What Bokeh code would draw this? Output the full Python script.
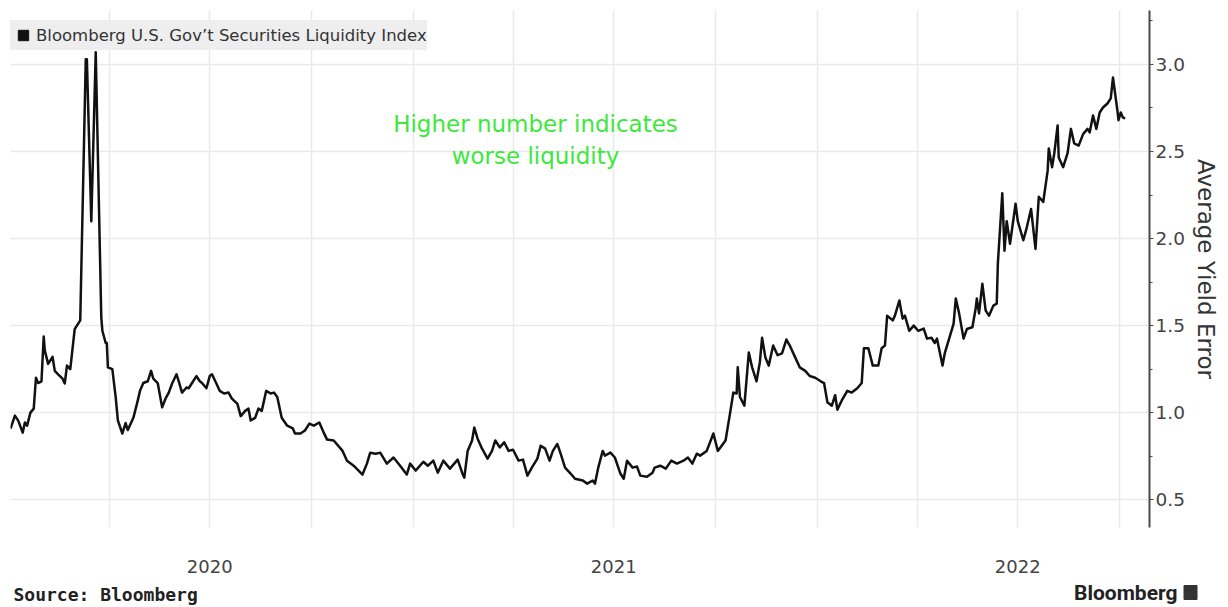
import pandas as pd
from bokeh.plotting import figure
from bokeh.layouts import column
from bokeh.models import (Range1d, FixedTicker, SingleIntervalTicker, NumeralTickFormatter,
                          DatetimeTickFormatter, Legend, LegendItem, Label, ColumnDataSource)
from bokeh.embed import file_html
from bokeh.resources import INLINE

# ---- data ----
series_name = "Bloomberg U.S. Gov\u2019t Securities Liquidity Index"
start_date = "2020-01-01"
days_since_start = [
    2, 6, 9, 13, 15, 17, 20, 23, 25, 27, 30, 32, 33, 36, 40, 42, 45, 49, 51, 53, 56, 60, 62, 65,
    70, 71, 75, 79, 84, 85, 88, 89, 90, 94, 97, 99, 103, 106, 108, 113, 117, 119, 122, 126, 129,
    131, 135, 139, 142, 145, 148, 152, 154, 157, 161, 163, 166, 170, 173, 175, 179, 182, 184, 188,
    191, 195, 199, 202, 207, 210, 214, 217, 219, 223, 226, 229, 233, 237, 240, 243, 247, 252, 257,
    259, 264, 268, 272, 276, 281, 285, 288, 294, 302, 306, 312, 320, 324, 327, 332, 336, 342, 348,
    354, 360, 363, 368, 375, 379, 384, 388, 393, 399, 406, 410, 412, 415, 419, 421, 424, 428, 433,
    437, 440, 444, 448, 452, 456, 461, 465, 469, 473, 478, 481, 485, 489, 492, 496, 499, 503, 508,
    512, 519, 523, 528, 530, 533, 537, 539, 544, 548, 553, 556, 559, 564, 568, 571, 577, 582, 584,
    589, 594, 599, 604, 610, 614, 618, 622, 625, 631, 637, 641, 648, 652, 655, 658, 659, 661, 665,
    669, 672, 676, 679, 681, 684, 687, 691, 695, 699, 703, 706, 711, 715, 720, 724, 729, 734, 737,
    740, 744, 747, 749, 753, 758, 762, 767, 771, 773, 777, 781, 786, 789, 792, 794, 799, 801, 805,
    808, 810, 814, 818, 822, 827, 830, 834, 837, 839, 844, 846, 850, 854, 856, 859, 863, 866, 871,
    874, 875, 877, 880, 883, 886, 890, 893, 894, 898, 900, 902, 905, 910, 912, 917, 920, 924, 928,
    931, 935, 939, 940, 943, 945, 948, 949, 953, 957, 960, 963, 967, 971, 975, 977, 980, 983, 986,
    989, 993, 996, 998, 1002, 1003, 1005, 1007, 1009,
]
index_values = [
    0.908, 0.983, 0.954, 0.885, 0.943, 0.925, 1.00, 1.023, 1.20, 1.17, 1.18, 1.437, 1.356, 1.28,
    1.32, 1.24, 1.22, 1.195, 1.167, 1.27, 1.25, 1.48, 1.50, 1.53,
    3.03, 3.03, 2.10, 3.07, 1.55, 1.47, 1.40, 1.40, 1.26, 1.25, 1.09, 0.955, 0.88, 0.94, 0.90,
    0.97, 1.07, 1.125, 1.17, 1.18, 1.24,
    1.195, 1.17, 1.03, 1.08, 1.115, 1.167, 1.22, 1.18, 1.115, 1.144, 1.14, 1.17, 1.21, 1.18, 1.17,
    1.14, 1.21, 1.22, 1.167,
    1.125, 1.11, 1.115, 1.08, 1.05, 0.98, 1.01, 1.023, 0.955, 0.97, 1.023, 1.01, 1.125, 1.11,
    1.115, 1.09, 0.97, 0.925, 0.91,
    0.88, 0.88, 0.897, 0.937, 0.925, 0.943, 0.885, 0.845, 0.84, 0.78, 0.724, 0.695, 0.644, 0.707,
    0.77, 0.764, 0.77, 0.707, 0.742,
    0.695, 0.644, 0.707, 0.667, 0.718, 0.695, 0.724, 0.655, 0.724, 0.678, 0.73, 0.655, 0.626, 0.78,
    0.84, 0.914, 0.85, 0.793, 0.736,
    0.78, 0.84, 0.80, 0.83, 0.78, 0.787, 0.724, 0.73, 0.638, 0.684, 0.736, 0.81, 0.793, 0.724, 0.78,
    0.82, 0.764, 0.684, 0.65,
    0.62, 0.61, 0.592, 0.61, 0.592, 0.684, 0.78, 0.753, 0.77, 0.742, 0.65, 0.62, 0.724, 0.684,
    0.69, 0.638, 0.632, 0.655, 0.684,
    0.695, 0.678, 0.724, 0.707, 0.724, 0.742, 0.707, 0.764, 0.753, 0.78, 0.88, 0.78, 0.84, 0.994,
    1.115, 1.11, 1.26, 1.09, 1.04,
    1.345, 1.26, 1.18, 1.29, 1.43, 1.316, 1.27, 1.385, 1.33, 1.34, 1.42, 1.385, 1.316, 1.26, 1.24,
    1.21, 1.20, 1.18, 1.17,
    1.06, 1.04, 1.10, 1.017, 1.07, 1.125, 1.115, 1.14, 1.17, 1.37, 1.37, 1.27, 1.27, 1.37, 1.385,
    1.557, 1.53, 1.557, 1.644,
    1.54, 1.557, 1.47, 1.50, 1.47, 1.483, 1.425, 1.43, 1.40, 1.425, 1.27, 1.34, 1.425, 1.51, 1.655,
    1.57, 1.425, 1.48, 1.49,
    1.60, 1.655, 1.57, 1.74, 1.586, 1.557, 1.615, 1.626, 1.856, 2.26, 1.93, 2.10, 1.97, 2.20, 2.10,
    1.99, 2.06, 2.17, 1.94,
    2.24, 2.21, 2.39, 2.517, 2.41, 2.49, 2.65, 2.466, 2.41, 2.49, 2.63, 2.546, 2.534, 2.60, 2.63,
    2.61, 2.707, 2.63, 2.724,
    2.753, 2.776, 2.805, 2.925, 2.735, 2.68, 2.724, 2.695, 2.69,
]
quarter_starts = ["2020-04-01", "2020-07-01", "2020-10-01", "2021-01-01", "2021-04-01",
                  "2021-07-01", "2021-10-01", "2022-01-01", "2022-04-01", "2022-07-01",
                  "2022-10-01"]
year_label_dates = ["2020-07-01", "2021-07-01", "2022-07-01"]
x_start, x_end = "2020-01-03", "2022-10-28"
y_start, y_end = 0.34, 3.31
y_axis_title = "Average Yield Error"
note_lines = ["Higher number indicates", "worse liquidity"]
source_text = "Source: Bloomberg"
brand_text = "Bloomberg"

assert len(days_since_start) == len(index_values)

dates = pd.Timestamp(start_date) + pd.to_timedelta(days_since_start, unit="D")
src = ColumnDataSource(dict(date=dates, value=index_values))

def ms(s):
    return pd.Timestamp(s).value / 1e6

FONT = "DejaVu Sans"

p = figure(width=1228, height=580, x_axis_type="datetime", y_axis_location="right",
           output_backend="svg", toolbar_location=None,
           x_range=Range1d(pd.Timestamp(x_start), pd.Timestamp(x_end)),
           y_range=Range1d(y_start, y_end),
           min_border_left=10, min_border_top=10, min_border_right=79, min_border_bottom=53)
p.frame_align = False
p.outline_line_color = None
p.background_fill_color = "white"
p.border_fill_color = "white"

# grids
p.xgrid.ticker = FixedTicker(ticks=[ms(d) for d in quarter_starts])
p.xgrid.grid_line_color = "#e9e9e9"
p.xgrid.grid_line_width = 1.5
p.ygrid.grid_line_color = "#e9e9e9"
p.ygrid.grid_line_width = 1.5

# x axis
xa = p.xaxis[0]
xa.ticker = FixedTicker(ticks=[ms(d) for d in year_label_dates])
xa.formatter = DatetimeTickFormatter(years="%Y", months="%Y", days="%Y", hours="%Y",
                                     minutes="%Y", seconds="%Y", milliseconds="%Y",
                                     microseconds="%Y", minsec="%Y", hourmin="%Y")
xa.axis_line_color = None
xa.major_tick_line_color = None
xa.minor_tick_line_color = None
xa.major_label_standoff = 26
xa.major_label_text_font = FONT
xa.major_label_text_font_size = "18px"
xa.major_label_text_color = "#444444"

# right y axis
ya = p.yaxis[0]
ya.ticker = SingleIntervalTicker(interval=0.5, num_minor_ticks=2)
ya.formatter = NumeralTickFormatter(format="0.0")
ya.axis_line_color = "#4a4a4a"
ya.axis_line_width = 2
ya.major_tick_line_color = "#4a4a4a"
ya.major_tick_in = 0
ya.major_tick_out = 4
ya.minor_tick_line_color = "#4a4a4a"
ya.minor_tick_in = 0
ya.minor_tick_out = 3
ya.major_label_standoff = 2
ya.major_label_text_font = FONT
ya.major_label_text_font_size = "18.5px"
ya.major_label_text_color = "#444444"
ya.axis_label = y_axis_title
ya.axis_label_text_font = FONT
ya.axis_label_text_font_style = "normal"
ya.axis_label_text_font_size = "23px"
ya.axis_label_text_color = "#333333"
ya.axis_label_standoff = 5

# series line
line = p.line("date", "value", source=src, line_color="#111111", line_width=2.5,
              line_join="round")

# legend (square swatch, drawn only inside the legend)
swatch = p.scatter("date", "value", source=src, marker="square", color="#111111",
                   visible=False)
legend = Legend(items=[LegendItem(label=series_name, renderers=[swatch])],
                location=(0, 477), orientation="vertical",
                background_fill_color="#eeeeee", background_fill_alpha=1.0,
                border_line_color=None, padding=4, spacing=0, margin=0,
                glyph_width=26, glyph_height=30, label_standoff=0,
                inactive_fill_alpha=0.0,
                label_text_font=FONT, label_text_font_size="16.5px",
                label_text_color="#333333", label_text_baseline="middle")
p.add_layout(legend, "center")

# green note
for i, t in enumerate(note_lines):
    p.add_layout(Label(x=525, y=404 - 32 * i, x_units="screen", y_units="screen", text=t,
                       text_align="center", text_baseline="middle", text_font=FONT,
                       text_font_size="23px", text_color="#3ce83c"))

# footer strip
f = figure(width=1228, height=27, output_backend="svg", toolbar_location=None,
           x_range=Range1d(0, 1228), y_range=Range1d(0, 27),
           min_border=0, x_axis_type=None, y_axis_type=None)
f.frame_align = False
f.outline_line_color = None
f.grid.visible = False
f.add_layout(Label(x=13, y=13, x_units="screen", y_units="screen", text=source_text,
                   text_align="left", text_baseline="middle", text_font="DejaVu Sans Mono",
                   text_font_style="bold", text_font_size="18px", text_color="#222222"))
f.add_layout(Label(x=1177, y=15, x_units="screen", y_units="screen", text=brand_text,
                   text_align="right", text_baseline="middle", text_font="Roboto",
                   text_font_style="bold", text_font_size="21px", text_color="#222222"))
f.rect(x=[1190], y=[15], width=13, height=14, color="#333333")

layout = column(p, f, spacing=0)
open("out.html", "w").write(file_html(layout, INLINE))
